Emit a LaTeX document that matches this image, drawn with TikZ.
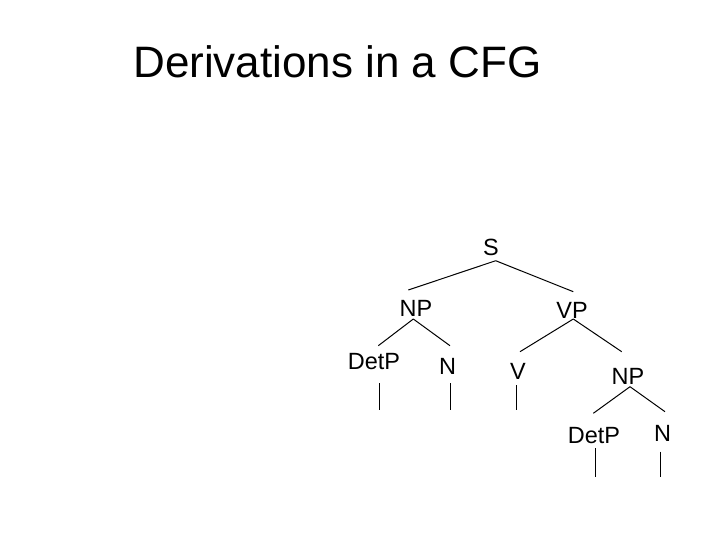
\documentclass[tikz,border=0pt]{standalone}
\usepackage{fontspec}
\setmainfont{Liberation Sans}
\begin{document}
\begin{tikzpicture}[x=0.75pt,y=-0.75pt,
  lbl/.style={inner sep=0pt,font=\fontsize{17.6}{20}\selectfont,text height=12.6pt,text depth=0pt},
  branch/.style={draw=black,line width=0.75pt},
  ttl/.style={inner sep=0pt,anchor=base west,font=\fontsize{33}{38}\selectfont}]
\useasboundingbox (0,0) rectangle (720,540);
\node[ttl] (title) at (133,77) {Derivations in a CFG};
\node[lbl] (S) at (491,247) {S};
\node[lbl] (NPa) at (416,308.5) {NP};
\node[lbl] (VP) at (572,310) {VP};
\node[lbl] (DetPa) at (374,361) {DetP};
\node[lbl] (Na) at (447.5,366.5) {N};
\node[lbl] (V) at (518,371.5) {V};
\node[lbl] (NPb) at (628,376.5) {NP};
\node[lbl] (DetPb) at (594,435.5) {DetP};
\node[lbl] (Nb) at (662.5,433) {N};
\draw[branch] ([shift={(4.7,13.7)}]S.center) -- ([shift={(-7.7,-18.5)}]NPa.center);
\draw[branch] ([shift={(4.7,13.7)}]S.center) -- ([shift={(1.3,-18.3)}]VP.center);
\draw[branch] ([shift={(-2.7,10.5)}]NPa.center) -- ([shift={(4.3,-15.3)}]DetPa.center);
\draw[branch] ([shift={(-2.7,10.5)}]NPa.center) -- ([shift={(2.5,-20.8)}]Na.center);
\draw[branch] ([shift={(1.3,9)}]VP.center) -- ([shift={(2,-19.8)}]V.center);
\draw[branch] ([shift={(1.3,9)}]VP.center) -- ([shift={(-6.3,-24.8)}]NPb.center);
\draw[branch] ([shift={(2,10.2)}]NPb.center) -- ([shift={(-0.7,-22.2)}]DetPb.center);
\draw[branch] ([shift={(2,10.2)}]NPb.center) -- ([shift={(2.5,-21.3)}]Nb.center);
\draw[branch] ([shift={(5.3,22.3)}]DetPa.center) -- ++(0,26.7);
\draw[branch] ([shift={(3.2,16.8)}]Na.center) -- ++(0,26.7);
\draw[branch] ([shift={(-2,13.5)}]V.center) -- ++(0,25);
\draw[branch] ([shift={(1,12.8)}]DetPb.center) -- ++(0,28.4);
\draw[branch] ([shift={(-2.5,18.7)}]Nb.center) -- ++(0,25);
\end{tikzpicture}
\end{document}
